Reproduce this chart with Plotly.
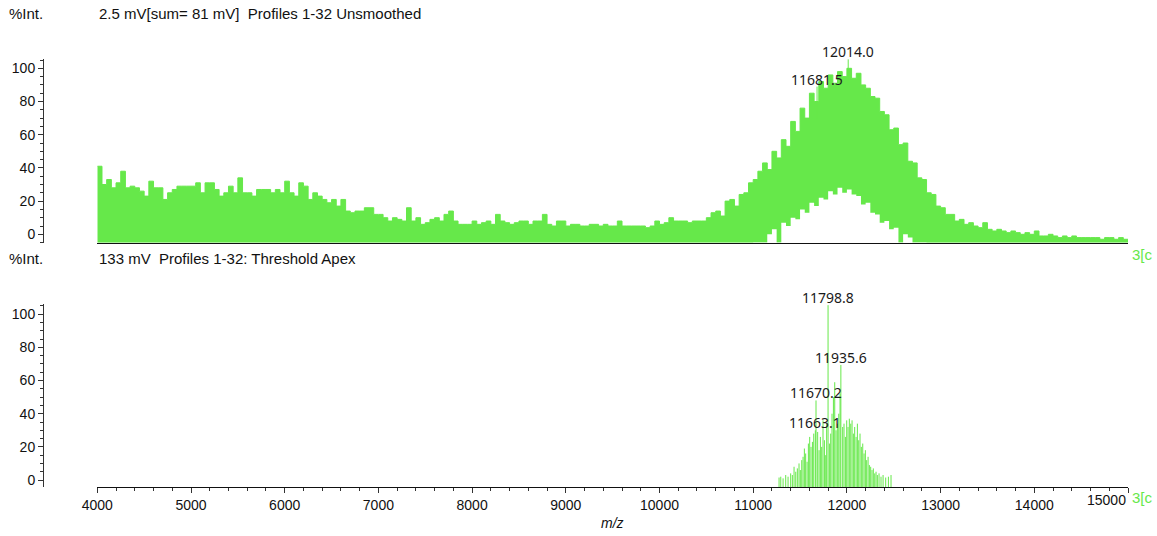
import plotly.graph_objects as go

GREEN = "#66e84a"
AXIS_FONT = "Liberation Sans, Arial, sans-serif"
PEAK_FONT = "Noto Sans, Segoe UI, sans-serif"

# ---------------- upper panel: unsmoothed profile (per 50 Da bin) ----------------
MZ_START = 4000
MZ_STEP = 50

# highest intensity (%) reached inside each bin
profile_max = [
    41, 30, 33, 28, 31, 38, 28, 29, 28, 26,      # 4000-4450
    23, 32, 28, 28, 21, 25, 27, 29, 29, 29,      # 4500-4950
    29, 31, 25, 31, 31, 27, 23, 25, 29, 25,      # 5000-5450
    34, 25, 25, 23, 27, 27, 27, 25, 27, 25,      # 5500-5950
    32, 25, 23, 31, 29, 21, 25, 23, 21, 19,      # 6000-6450
    21, 17, 21, 14, 13, 14, 14, 16, 16, 12,      # 6500-6950
    12, 10, 8, 10, 9, 8, 16, 8, 10, 6,           # 7000-7450
    7, 9, 10, 8, 12, 14, 8, 6, 6, 6,             # 7500-7950
    8, 6, 7, 8, 6, 12, 8, 7, 6, 7,               # 8000-8450
    8, 8, 6, 8, 8, 12, 6, 5, 8, 8,               # 8500-8950
    5, 6, 6, 5, 5, 6, 6, 5, 6, 5,                # 9000-9450
    5, 8, 5, 5, 5, 5, 5, 4, 5, 8,                # 9500-9950
    6, 7, 10, 8, 8, 8, 7, 8, 8, 8,               # 10000-10450
    10, 13, 14, 11, 20, 21, 17, 24, 25, 31,      # 10500-10950
    33, 38, 43, 39, 50, 46, 57, 53, 68, 62,      # 11000-11450
    76, 70, 85, 80, 92, 88, 96, 91, 98, 95,      # 11500-11950
    100, 94, 97, 90, 88, 83, 82, 74, 72, 63,     # 12000-12450
    64, 54, 55, 44, 43, 34, 33, 25, 24, 17,      # 12500-12950
    16, 12, 12, 8, 9, 6, 7, 5, 4, 7,             # 13000-13450
    3, 2, 3, 2, 1, 2, 1, 0, 1, 0,                # 13500-13950
    2, -1, -1, 0, -1, -2, -1, -2, -1, -2,        # 14000-14450
    -2, -2, -2, -2, -3, -2, -2, -3, -2, -3,      # 14500-14950
    -3,                                          # 15000
]

# lowest intensity (%) inside each bin across the protein envelope
DIP_START = 11000
profile_min = [
    -5, -5, -5, 0, 3, -5, 7, 5, 10, 9,           # 11000-11450
    15, 13, 19, 17, 22, 21, 26, 24, 28, 25,      # 11500-11950
    27, 24, 23, 18, 19, 13, 12, 7, 8, 3,         # 12000-12450
    4, -5, 0, -2, -5, -5, -5,                    # 12500-12800
]

# labelled apexes in the profile
top_peak_mz = [11681.5, 12014.0]
top_peak_int = [89, 105.4]

# ---------------- lower panel: threshold-apex peak list ----------------
stick_mz = [
    11276, 11294, 11319, 11347, 11372, 11400, 11418, 11436, 11454, 11471,
    11489, 11503, 11518, 11532, 11546, 11560, 11575, 11589, 11603, 11617,
    11632, 11646, 11663.1, 11670.2, 11688, 11703, 11717, 11731, 11745, 11760,
    11774, 11784, 11798.8, 11813, 11827, 11841, 11856, 11870, 11884, 11898,
    11913, 11927, 11935.6, 11955, 11969, 11984, 11998, 12012, 12026, 12041,
    12055, 12069, 12083, 12098, 12112, 12126, 12140, 12154, 12169, 12183,
    12197, 12211, 12226, 12240, 12254, 12268, 12282, 12297, 12311, 12325,
    12343, 12364, 12386, 12414, 12443, 12471,
]
stick_int = [
    1.5, 2, 1, 3, 2, 4, 3, 8, 5, 7,
    10, 6, 12, 14, 19, 16, 11, 22, 26, 20,
    23, 28, 30, 48, 29, 18, 26, 20, 36, 24,
    15, 34, 105.5, 22, 28, 40, 50, 59, 30, 34,
    40, 52, 69.4, 32, 34, 26, 36, 32, 37, 34,
    36, 28, 32, 26, 34, 24, 28, 20, 22, 16,
    18, 12, 14, 9, 8, 6, 7, 4, 5, 3,
    4, 2, 3, 1.5, 2, 3,
]
bottom_labels = [11798.8, 11935.6, 11670.2, 11663.1]

x_ticks = [4000, 5000, 6000, 7000, 8000, 9000, 10000, 11000, 12000, 13000, 14000, 15000]
y_ticks = [0, 20, 40, 60, 80, 100]

header_top = "2.5 mV[sum= 81 mV]\u00a0\u00a0Profiles 1-32 Unsmoothed"
header_bottom = "133 mV\u00a0\u00a0Profiles 1-32: Threshold Apex"

# ---------------- page geometry ----------------
W, H = 1157, 536
ML, MR, MT, MB = 43, 29, 59, 49
PW = W - ML - MR
PH = H - MT - MB


def px_x(px):
    return (px - ML) / PW


def px_y(py):
    return (H - MB - py) / PH


TOP_RANGE = [-5.06, 105.6]
BOT_RANGE = [-4.22, 106.2]
FLOOR = TOP_RANGE[0]

grid = [MZ_START + i * MZ_STEP for i in range(len(profile_max))]
dip_first = (DIP_START - MZ_START) // MZ_STEP
lower_curve = []
for i, mz in enumerate(grid):
    j = i - dip_first
    if 0 <= j < len(profile_min):
        lower_curve.append(max(profile_min[j], FLOOR))
    else:
        lower_curve.append(FLOOR)

fig = go.Figure()

# profile band between per-bin minimum and maximum
fig.add_trace(go.Scatter(
    x=grid, y=lower_curve, mode="lines",
    line=dict(width=0, shape="hv", color=GREEN),
    xaxis="x2", yaxis="y2", hoverinfo="skip", showlegend=False,
))
fig.add_trace(go.Scatter(
    x=grid, y=profile_max, mode="lines",
    line=dict(width=1, shape="hv", color=GREEN),
    fill="tonexty", fillcolor=GREEN,
    xaxis="x2", yaxis="y2", hoverinfo="skip", showlegend=False,
))

# labelled apex lines in the profile, rising from the band
tx, ty = [], []
for mz, val in zip(top_peak_mz, top_peak_int):
    b = int((mz - MZ_START) // MZ_STEP)
    tx += [mz, mz, None]
    ty += [profile_max[b] - 10, val, None]
fig.add_trace(go.Scatter(
    x=tx, y=ty, mode="lines", line=dict(width=1, color=GREEN),
    xaxis="x2", yaxis="y2", hoverinfo="skip", showlegend=False,
))

# centroid sticks
sx, sy = [], []
for mz, val in zip(stick_mz, stick_int):
    sx += [mz, mz, None]
    sy += [BOT_RANGE[0], val, None]
fig.add_trace(go.Scatter(
    x=sx, y=sy, mode="lines", line=dict(width=1, color=GREEN),
    xaxis="x", yaxis="y", hoverinfo="skip", showlegend=False,
))

annotations = []
peak_font = dict(family=PEAK_FONT, size=14, color="#1a1a1a")
for mz, val in zip(top_peak_mz, top_peak_int):
    annotations.append(dict(
        x=mz, y=val, xref="x2", yref="y2", text=f"{mz:.1f}", showarrow=False,
        xanchor="center", yanchor="bottom", yshift=-4, font=peak_font,
    ))
for mz in bottom_labels:
    val = stick_int[stick_mz.index(mz)]
    annotations.append(dict(
        x=mz, y=val, xref="x", yref="y", text=f"{mz:.1f}", showarrow=False,
        xanchor="center", yanchor="bottom", yshift=-4, font=peak_font,
    ))

txt = dict(family=AXIS_FONT, size=15, color="#111")
for py, head in [(13, header_top), (258, header_bottom)]:
    annotations.append(dict(x=px_x(7), y=px_y(py), xref="paper", yref="paper",
                            text="%Int.", showarrow=False, xanchor="left",
                            yanchor="middle", font=txt))
    annotations.append(dict(x=px_x(97), y=px_y(py), xref="paper", yref="paper",
                            text=head, showarrow=False, xanchor="left",
                            yanchor="middle", font=txt))
for py in (254, 497):
    annotations.append(dict(x=px_x(1130), y=px_y(py), xref="paper", yref="paper",
                            text="3[c", showarrow=False, xanchor="left",
                            yanchor="middle",
                            font=dict(family=AXIS_FONT, size=15, color=GREEN)))
annotations.append(dict(x=px_x(1128), y=px_y(500), xref="paper", yref="paper",
                        text="15000", showarrow=False, xanchor="right",
                        yanchor="middle",
                        font=dict(family=AXIS_FONT, size=14, color="#111")))
annotations.append(dict(x=px_x(612.5), y=px_y(523), xref="paper", yref="paper",
                        text="<i>m/z</i>", showarrow=False, xanchor="center",
                        yanchor="middle",
                        font=dict(family=AXIS_FONT, size=14, color="#111")))

x_dom = [px_x(97.3), 1.0]
tick_font = dict(family=AXIS_FONT, size=14, color="#111")

yaxis_common = dict(
    tickvals=y_ticks, ticks="outside", ticklen=5, tickwidth=1, tickcolor="#333",
    showline=True, linecolor="#333", linewidth=1, showgrid=False, zeroline=False,
    tickfont=tick_font, anchor="free", position=0,
    minor=dict(tick0=0, dtick=5, ticks="outside", ticklen=3, tickcolor="#333",
               showgrid=False),
)

fig.update_layout(
    width=W, height=H,
    margin=dict(l=ML, r=MR, t=MT, b=MB, pad=0),
    paper_bgcolor="white", plot_bgcolor="white",
    showlegend=False, hovermode=False,
    xaxis=dict(
        domain=x_dom, range=[4000, 15000], anchor="y",
        tickvals=x_ticks, ticktext=[str(v) if v != 15000 else "" for v in x_ticks],
        ticks="outside", ticklen=5, tickcolor="#333", tickwidth=1,
        showline=True, linecolor="#111", linewidth=1, showgrid=False, zeroline=False,
        tickfont=tick_font,
        minor=dict(tick0=4000, dtick=200, ticks="outside", ticklen=3,
                   tickcolor="#333", showgrid=False),
    ),
    xaxis2=dict(
        domain=x_dom, range=[4000, 15000], anchor="y2", matches="x",
        showticklabels=False, ticks="", showline=True, linecolor="#111",
        linewidth=1, showgrid=False, zeroline=False,
    ),
    yaxis=dict(domain=[0, px_y(304)], range=BOT_RANGE, **yaxis_common),
    yaxis2=dict(domain=[px_y(242.7), 1.0], range=TOP_RANGE, **yaxis_common),
    annotations=annotations,
)

fig.write_html("out.html", config={"displayModeBar": False})
